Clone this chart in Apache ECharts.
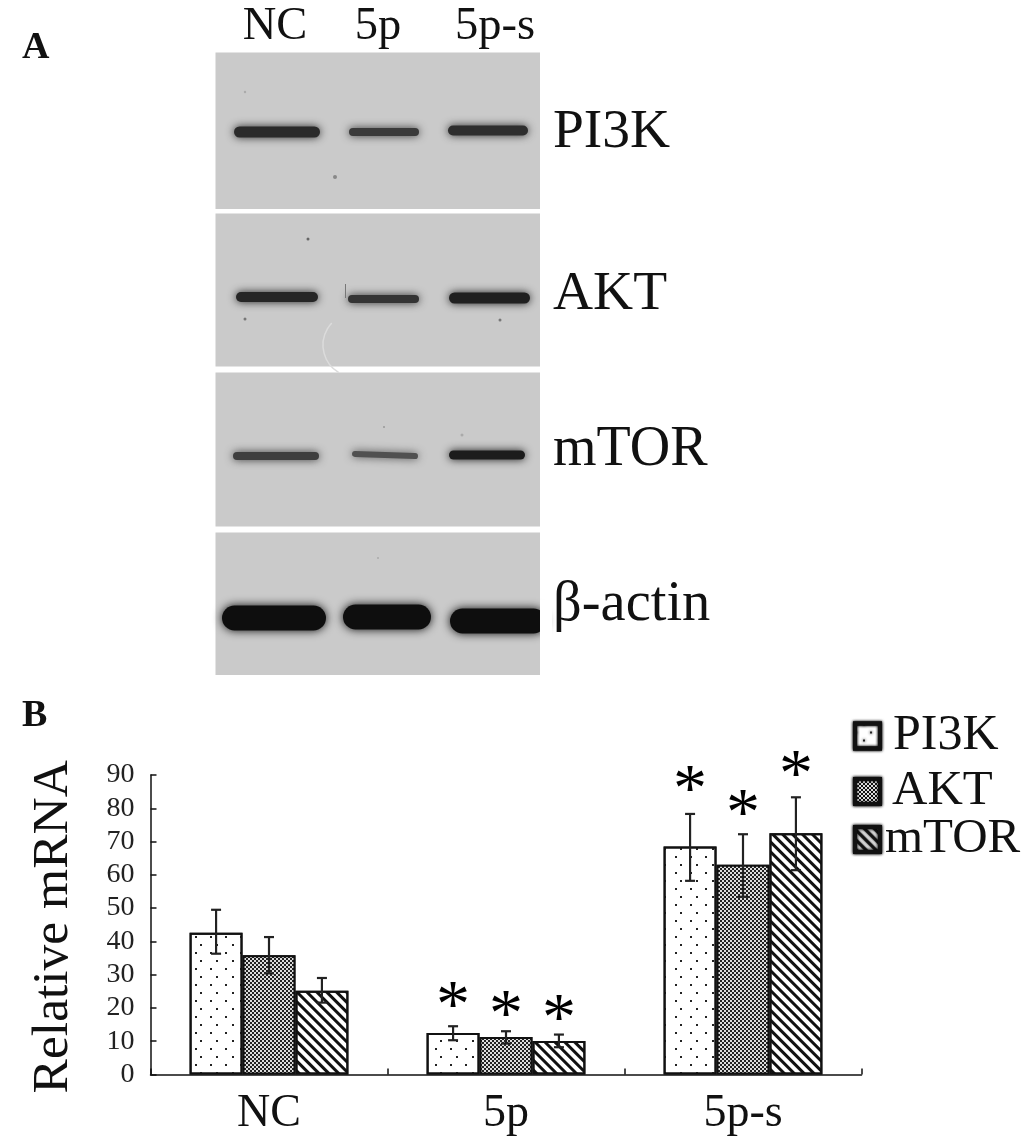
<!DOCTYPE html>
<html><head><meta charset="utf-8">
<style>html,body{margin:0;padding:0;background:#fff}#c{width:1033px;height:1143px}</style>
<script src="https://cdn.jsdelivr.net/npm/echarts@6/dist/echarts.min.js"></script>
</head><body><div id="c"></div>
<script>
// ---- Panel B data ----
const categories = ['NC', '5p', '5p-s'];
const yTicks = [0, 10, 20, 30, 40, 50, 60, 70, 80, 90];
const seriesNames = ['PI3K', 'AKT', 'mTOR'];
const pi3k = [42.6, 12.5, 68.5];
const akt = [35.8, 11.3, 63.0];
const mtor = [25.2, 10.1, 72.5];
const pi3kHigh = [49.5, 14.5, 78.3];
const pi3kLow = [36.3, 10.3, 58.2];
const aktHigh = [41.3, 13.0, 72.2];
const aktLow = [30.4, 9.3, 53.4];
const mtorHigh = [29.0, 12.0, 83.3];
const mtorLow = [21.6, 8.2, 61.4];
const pi3kStar = [null, 22.9, 88.0];
const aktStar = [null, 20.3, 80.5];
const mtorStar = [null, 19.0, 92.3];

// ---- Panel A labels ----
const blotLanes = ['NC', '5p', '5p-s'];
const blotProteins = ['PI3K', 'AKT', 'mTOR', 'β-actin'];

const FONT = '"Liberation Serif","Times New Roman",serif';
const INK = '#111';
const GROUP = 1 - 0.33;

// Western-blot panels, drawn as graphic shapes
const panels = [[215.5,52.5,324.5,156.5],[215.5,213.5,324.5,153],[215.5,372.5,324.5,154],[215.5,532.5,324.5,142.5]];
const bands = [
 [232,322,132,11,'#2a2a2a',0],[347,421,132,8,'#3a3a3a',0],[446,530,130.5,10,'#2e2e2e',0],
 [234,320,297,10,'#262626',0],[346,421,299,8,'#343434',0],[447,532,298,11,'#202020',0],
 [231,321,456,8,'#3e3e3e',0],[350,420,455,6,'#505050',-0.035],[447,527,455,9,'#1c1c1c',0],
 [220,328,618,25,'#0e0e0e',0],[341,433,617,25,'#0e0e0e',0],[448,548,621,25,'#0e0e0e',0]
];
const specks = [[245,92,1.2,'#aaa'],[335,177,2,'#888'],[308,239,1.5,'#666'],[245,319,1.5,'#777'],[500,320,1.5,'#777'],[384,427,1,'#999'],[462,435,1.5,'#aaa'],[378,558,1,'#aaa']];

const graphics = [];
panels.forEach(p => graphics.push({type:'rect',silent:true,z:1,shape:{x:p[0],y:p[1],width:p[2],height:p[3]},style:{fill:'#cacaca'}}));
bands.forEach(b => graphics.push({type:'rect',silent:true,z:2,rotation:b[5],originX:(b[0]+b[1])/2,originY:b[2],
  shape:{x:b[0]+2,y:b[2]-b[3]/2,width:b[1]-b[0]-4,height:b[3],r:b[3]/2},
  style:{fill:b[4],shadowBlur:b[3]>15?10:8,shadowColor:b[4]}}));
specks.forEach(s => graphics.push({type:'circle',silent:true,z:3,shape:{cx:s[0],cy:s[1],r:s[2]},style:{fill:s[3]}}));
graphics.push({type:'arc',silent:true,z:3,shape:{cx:355,cy:345,r:32,startAngle:2.1,endAngle:3.9},style:{stroke:'#dcdcdc',lineWidth:1.5,fill:null}});
graphics.push({type:'line',silent:true,z:3,shape:{x1:345.5,y1:284,x2:345.5,y2:298},style:{stroke:'#777',lineWidth:1}});
graphics.push({type:'rect',silent:true,z:4,shape:{x:540,y:600,width:12,height:50},style:{fill:'#fff'}});

const txt = (s,x,base,size,weight,align) => ({type:'text',silent:true,z:5,x,y:base-0.78*size,style:{text:s,font:(weight||'normal')+' '+size+'px '+FONT,fill:INK,textAlign:align||'left',textVerticalAlign:'top'}});
graphics.push(txt('A',22,59,38,'bold'));
graphics.push(txt('B',22,727,38,'bold'));
[275,378,495].forEach((x,i)=>graphics.push(txt(blotLanes[i],x,40,46.5,'normal','center')));
[148,310,466,621].forEach((y,i)=>graphics.push(txt(blotProteins[i],553,y,i===3?56.5:(i===2?56:55.5))));

// ---- Patterns ----
const decals = [
 {symbol:'rect',symbolSize:1,dashArrayX:[[2,13],[0,7.5,2,5.5]],dashArrayY:[2,5.4],color:'#222',rotation:0},
 {symbol:'rect',symbolSize:1,dashArrayX:[[2,2],[0,2,2,0]],dashArrayY:[2,0],color:'#ddd',rotation:0},
 {symbol:'rect',symbolSize:1,dashArrayX:[1,0],dashArrayY:[2.4,3.4],color:'#111',rotation:Math.PI/4}
];
const barFill = ['#fff','#222','#fff'];
const values = [pi3k, akt, mtor];
const highs = [pi3kHigh, aktHigh, mtorHigh];
const lows = [pi3kLow, aktLow, mtorLow];
const stars = [pi3kStar, aktStar, mtorStar];

const barSeries = seriesNames.map((n,i)=>({
  name:n,type:'bar',barGap:0,barCategoryGap:'33%',data:values[i],z:2,
  itemStyle:{color:barFill[i],borderColor:INK,borderWidth:2,decal:decals[i]},
  emphasis:{disabled:true},silent:true
}));

const errorSeries = seriesNames.map((n,i)=>({
  type:'custom',z:5,silent:true,clip:false,
  data:categories.map((c,k)=>[k,lows[i][k],highs[i][k],stars[i][k]]),
  encode:{x:0,y:[1,2]},
  renderItem(params,api){
    const bw=api.size([1,0])[0]*GROUP/3, off=(i-1)*bw;
    const k=api.value(0);
    const lo=api.coord([k,api.value(1)]), hi=api.coord([k,api.value(2)]);
    const x=hi[0]+off, cap=5;
    const st={stroke:'#222',lineWidth:2.2,fill:null};
    const kids=[
      {type:'line',shape:{x1:x,y1:hi[1],x2:x,y2:lo[1]},style:st},
      {type:'line',shape:{x1:x-cap,y1:hi[1],x2:x+cap,y2:hi[1]},style:st},
      {type:'line',shape:{x1:x-cap,y1:lo[1],x2:x+cap,y2:lo[1]},style:st}
    ];
    const sv=stars[i][k];
    if(sv!==null){
      const p=api.coord([k,sv]);
      kids.push({type:'text',x:p[0]+off,y:p[1]+10,style:{text:'*',font:'normal 68px '+FONT,fill:'#000',textAlign:'center',textVerticalAlign:'middle'}});
    }
    return {type:'group',children:kids};
  }
}));

const legendRows = [[853,711,8],[853,767,7],[853,815,0]];
const legendFonts = [50,49,49];
const legends = seriesNames.map((n,i)=>({
  left:legendRows[i][0],top:legendRows[i][1],padding:0,itemWidth:25,itemHeight:25,icon:'rect',selectedMode:false,
  data:[{name:n,itemStyle:{borderWidth:4,borderColor:'#111',shadowBlur:3,shadowColor:'#555'}}],
  textStyle:{fontFamily:FONT,fontSize:legendFonts[i],color:INK,padding:[0,0,0,legendRows[i][2]]}
}));

const chart = echarts.init(document.getElementById('c'),null,{renderer:'canvas',width:1033,height:1143});
chart.setOption({
  animation:false,backgroundColor:'#fff',
  graphic:graphics,
  legend:legends,
  grid:{left:150.5,right:171.5,top:775,bottom:68.5,containLabel:false},
  xAxis:{type:'category',data:categories,
    axisLine:{lineStyle:{color:INK,width:1.5}},
    axisTick:{show:true,inside:true,length:6,alignWithLabel:false,lineStyle:{color:INK,width:1.5}},
    axisLabel:{fontFamily:FONT,fontSize:46,color:INK,margin:16}},
  yAxis:{type:'value',min:0,max:yTicks[yTicks.length-1],interval:yTicks[1]-yTicks[0],
    name:'Relative mRNA',nameLocation:'middle',nameGap:71,nameRotate:90,
    nameTextStyle:{fontFamily:FONT,fontSize:51.5,color:INK,padding:[0,4,0,0]},
    splitLine:{show:false},
    axisLine:{show:true,lineStyle:{color:INK,width:1.5}},
    axisTick:{show:true,inside:true,length:6,lineStyle:{color:INK,width:1.5}},
    axisLabel:{fontFamily:FONT,fontSize:28,color:'#222',margin:16}},
  series:[...barSeries,...errorSeries]
});
</script></body></html>
